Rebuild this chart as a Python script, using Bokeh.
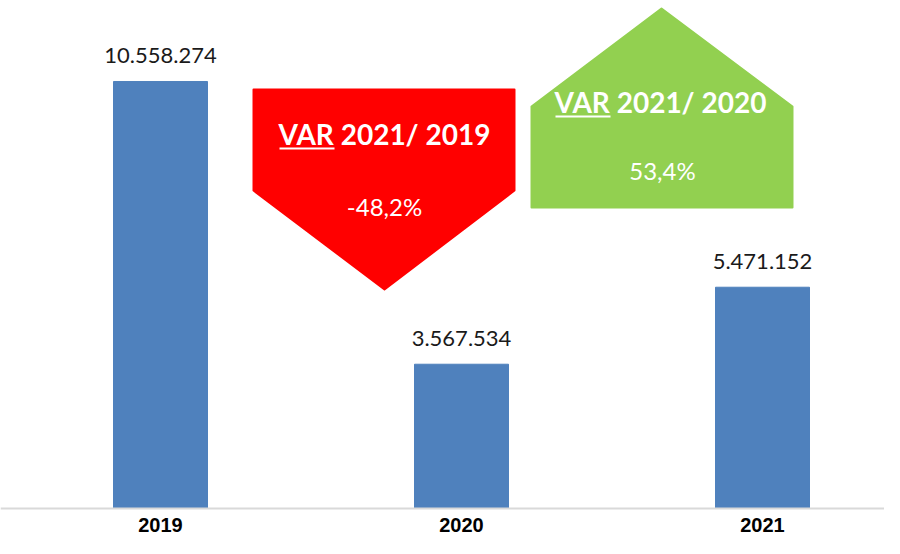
from bokeh.plotting import figure
from bokeh.models import FixedTicker, Range1d
from bokeh.core.properties import value
from bokeh.embed import file_html
from bokeh.resources import INLINE

# ---- data ----
years = [2019, 2020, 2021]
year_labels = ["2019", "2020", "2021"]
passengers = [10558274, 3567534, 5471152]
value_labels = ["10.558.274", "3.567.534", "5.471.152"]
var_titles = ["VAR 2021/ 2019", "VAR 2021/ 2020"]
var_values = ["-48,2%", "53,4%"]

# ---- layout helpers (pixel -> data) ----
W, H = 884, 538
PX_PER_YEAR = 301.0
UNITS_PER_PX = 24726.6
BASE_Y = 508


def X(px):
    return 2019 + (px - 160) / PX_PER_YEAR


def Y(py):
    return (BASE_Y - py) * UNITS_PER_PX


FONT = "Lato"

p = figure(width=W, height=H, output_backend="svg", toolbar_location=None,
           x_range=Range1d(X(0), X(W)),
           y_range=Range1d(Y(H), Y(0)),
           min_border=0)
p.outline_line_color = None
p.xgrid.visible = False
p.ygrid.visible = False
p.yaxis.visible = False
p.background_fill_color = "white"
p.border_fill_color = "white"

ax = p.xaxis[0]
ax.fixed_location = 0
ax.ticker = FixedTicker(ticks=years)
ax.major_label_overrides = {y: l for y, l in zip(years, year_labels)}
ax.major_tick_line_color = None
ax.minor_tick_line_color = None
ax.axis_line_color = "#D9D9D9"
ax.axis_line_width = 2
ax.major_label_text_font = "Liberation Sans"
ax.major_label_text_font_style = "bold"
ax.major_label_text_font_size = "20px"
ax.major_label_text_color = "#000000"
ax.major_label_standoff = 3

# bars
p.vbar(x=years, top=passengers, width=94 / PX_PER_YEAR, color="#4F81BD")

# value labels
p.text(x=years, y=[v + 26 * UNITS_PER_PX for v in passengers], text=value_labels,
       text_align="center", text_baseline="middle",
       text_font=value(FONT), text_font_size="22px", text_color="#1a1a1a")

# red down arrow
red_px = [(253, 89), (514, 89), (514, 190), (384, 289), (253, 190)]
p.patch([X(a) for a, b in red_px], [Y(b) for a, b in red_px],
        fill_color="#FF0000", line_color="#FF0000", line_join="round", line_width=2)
# green up arrow
green_px = [(531, 106), (661, 8), (792, 106), (792, 207), (531, 207)]
p.patch([X(a) for a, b in green_px], [Y(b) for a, b in green_px],
        fill_color="#92D050", line_color="#92D050", line_join="round", line_width=2)

# arrow texts
p.text(x=[X(384), X(660)], y=[Y(133), Y(101)], text=var_titles,
       text_align="center", text_baseline="middle",
       text_font=value(FONT), text_font_style="bold", text_font_size="28px",
       text_color="white")
p.text(x=[X(384), X(662)], y=[Y(206), Y(170)], text=var_values,
       text_align="center", text_baseline="middle",
       text_font=value(FONT), text_font_size="24px", text_color="white")
# underline of "VAR"
p.multi_line(xs=[[X(279), X(334)], [X(555), X(610)]],
             ys=[[Y(148), Y(148)], [Y(116), Y(116)]],
             line_color="white", line_width=2)

open("out.html", "w").write(file_html(p, INLINE))
